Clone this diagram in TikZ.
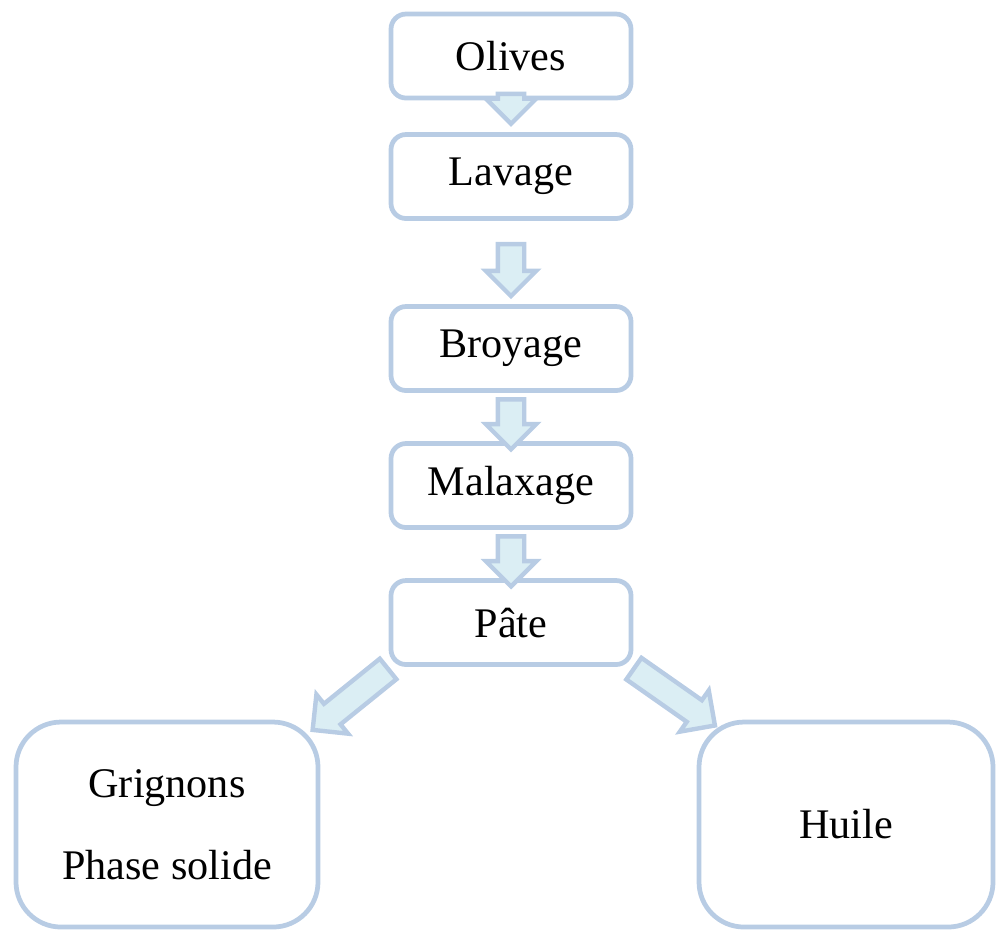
\documentclass[tikz,border=0pt]{standalone}
\usepackage{fontspec}
\setmainfont{Liberation Serif}
\usetikzlibrary{shapes.arrows, positioning}
\definecolor{boxline}{RGB}{184,204,228}
\definecolor{arrowfill}{RGB}{219,238,244}

\begin{document}
\begin{tikzpicture}[
        stage/.style={rectangle, rounded corners=0.15cm, draw=boxline, line width=1.35pt, fill=white, minimum width=2.40cm, minimum height=0.84cm, align=center, font=\fontsize{12}{14}\selectfont},
        product/.style={rectangle, rounded corners=0.45cm, draw=boxline, line width=1.35pt, fill=white, minimum height=2.05cm, align=center, font=\fontsize{12}{23.3}\selectfont},
        flow/.style={single arrow, draw=boxline, fill=arrowfill, line width=1.25pt, inner xsep=0pt, inner ysep=0.11cm, single arrow head extend=0.12cm, midway, sloped, allow upside down}
    ]
        \useasboundingbox (0,0) rectangle (9.97,-9.31);

        % Process steps (centre column)
        \node[stage] (olives) at (5.11,-0.56) {Olives};
        \node[stage] (lavage) at (5.11,-1.765) {Lavage};
        \node[stage] (broyage) at (5.11,-3.485) {Broyage};
        \node[stage] (malaxage) at (5.11,-4.855) {Malaxage};
        \node[stage] (pate) at (5.11,-6.225) {Pâte};

        % Products (bottom)
        \node[product, minimum width=3.02cm] (grignons) at (1.67,-8.245) {Grignons\\Phase solide};
        \node[product, minimum width=2.94cm] (huile) at (8.46,-8.245) {Huile};

        % Flows: centre column
        \path ([yshift=0.11cm]olives.south) -- ([yshift=0.17cm]lavage.north) node[flow, minimum height=0.30cm] {};
        \path ([yshift=-0.185cm]lavage.south) -- ([yshift=0.165cm]broyage.north) node[flow, minimum height=0.52cm] {};
        \path ([yshift=-0.015cm]broyage.south) -- (malaxage.north) node[flow, minimum height=0.50cm] {};
        \path ([yshift=-0.015cm]malaxage.south) -- (pate.north) node[flow, minimum height=0.50cm] {};

        % Flows: split of the paste
        \path ([xshift=0.02cm]pate.south west) -- ([yshift=-0.04cm]grignons.north east) node[flow, minimum height=0.97cm] {};
        \path ([xshift=-0.02cm]pate.south east) -- ([xshift=0.1cm]huile.north west) node[flow, minimum height=0.99cm] {};

    \end{tikzpicture}
\end{document}
